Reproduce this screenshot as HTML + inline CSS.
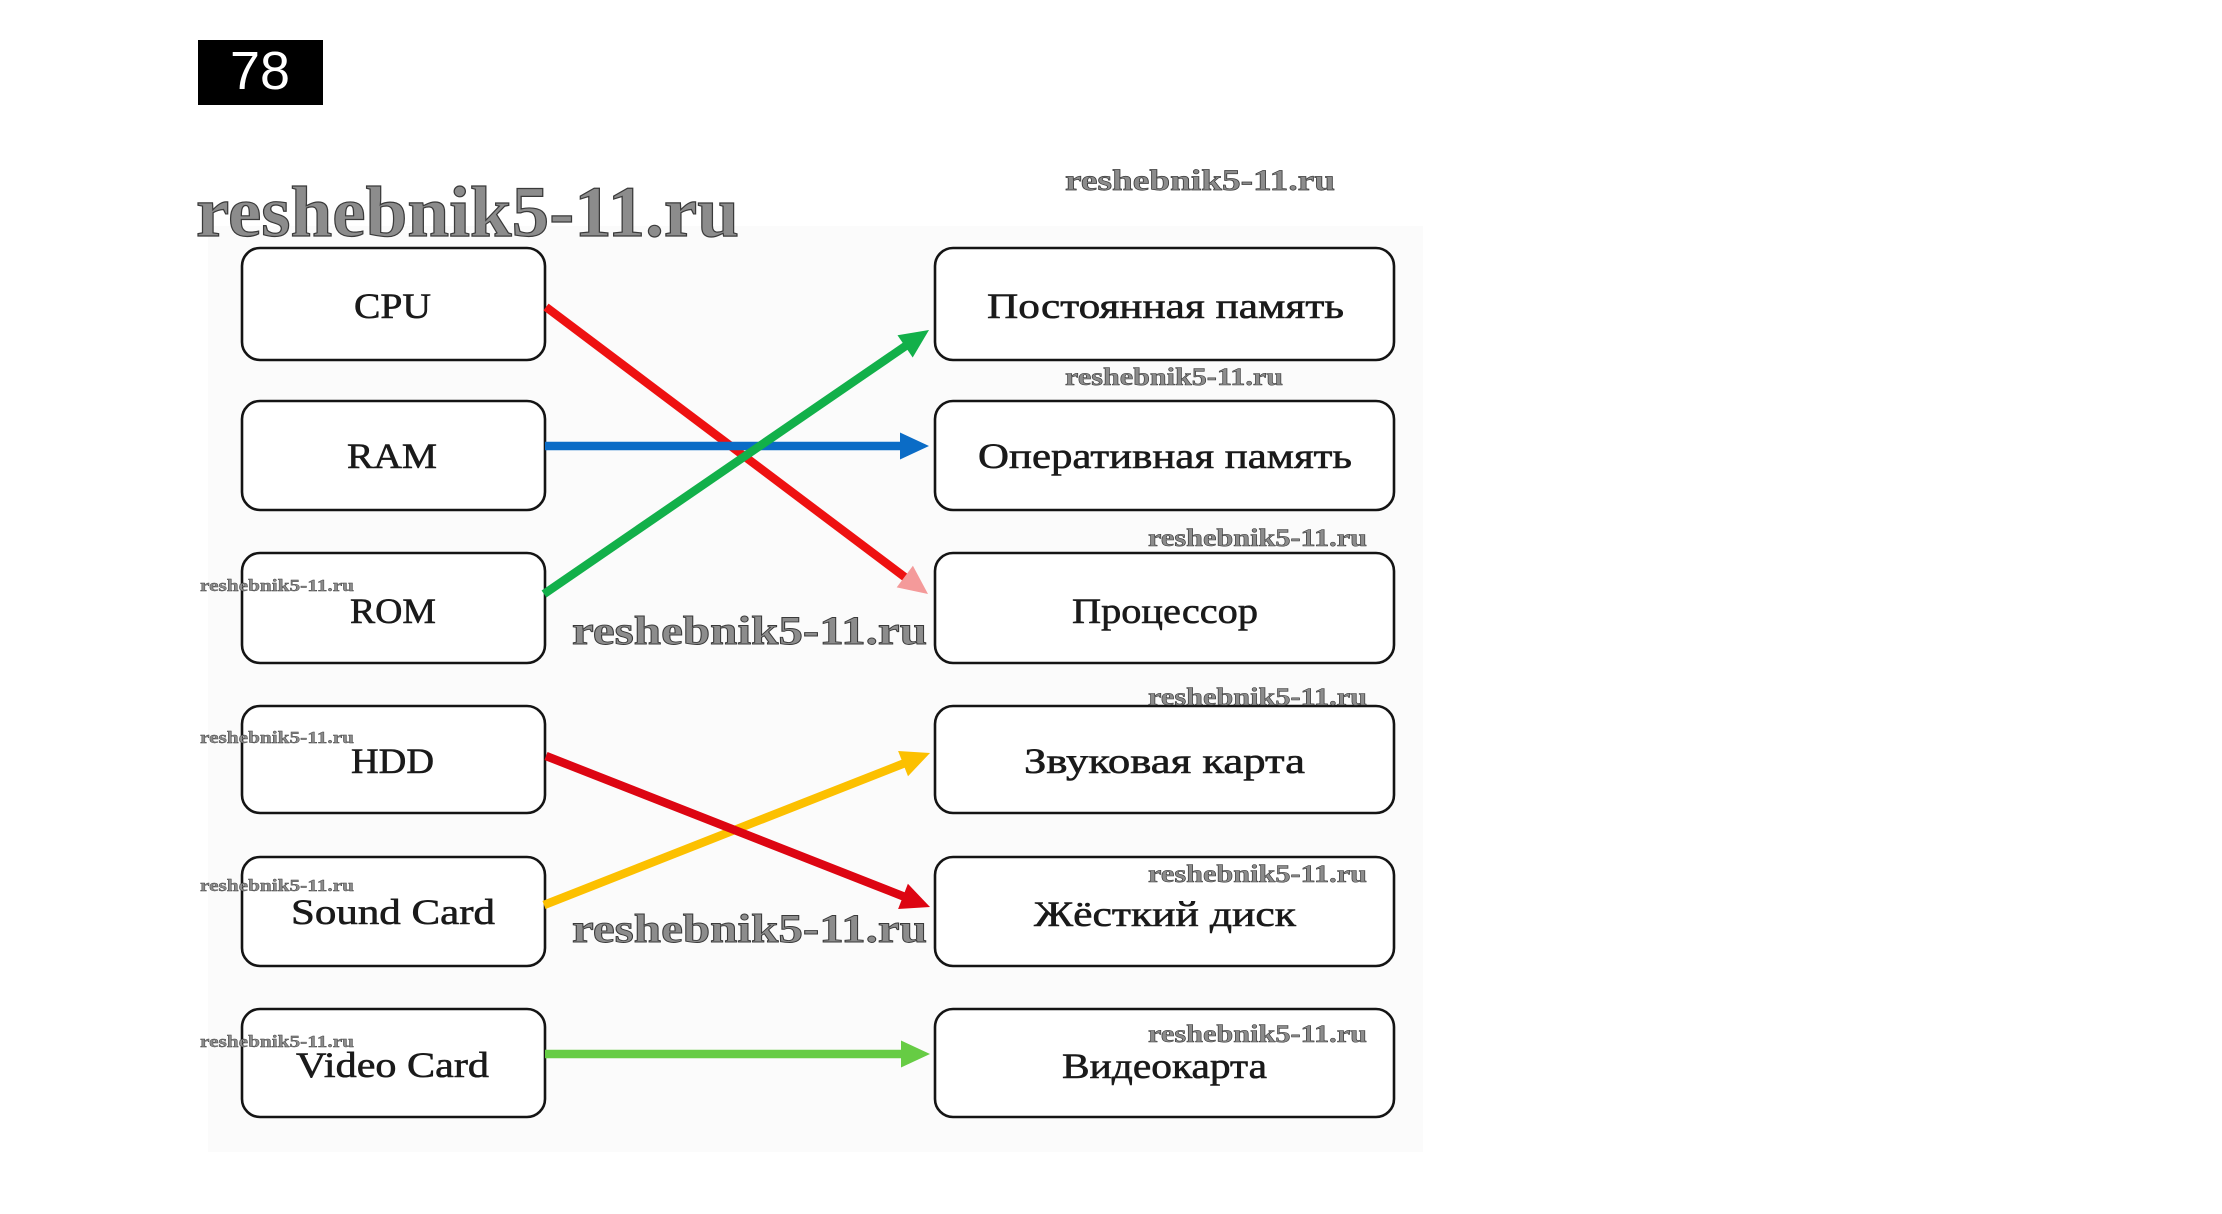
<!DOCTYPE html>
<html>
<head>
<meta charset="utf-8">
<style>
  html, body { margin: 0; padding: 0; background: #ffffff; }
  body { width: 2222px; height: 1214px; overflow: hidden; }
  svg { display: block; }
  .lbl { font-family: "Liberation Serif", "DejaVu Serif", serif; font-size: 36px; fill: #1a1a1a; stroke: #1a1a1a; stroke-width: 0.6; }
  .wm { font-family: "Liberation Serif", "DejaVu Serif", serif; font-weight: bold; fill: #8c8c8c; stroke: #3a3a3a; }
  .box { fill: #ffffff; stroke: #141414; stroke-width: 2.6; }
</style>
</head>
<body>
<svg width="2222" height="1214" viewBox="0 0 2222 1214" xmlns="http://www.w3.org/2000/svg">
  <rect x="0" y="0" width="2222" height="1214" fill="#ffffff"/>
  <rect x="208" y="226" width="1215" height="926" fill="#fbfbfb"/>

  <!-- number badge -->
  <rect x="198" y="40" width="125" height="65" fill="#000000"/>
  <text x="230" y="89" font-family="Liberation Sans, Arial, sans-serif" font-size="54" fill="#ffffff" textLength="60" lengthAdjust="spacingAndGlyphs">78</text>

  <!-- big watermark -->
  <text class="wm" x="196" y="236" font-size="72" stroke-width="1.2" textLength="543" lengthAdjust="spacingAndGlyphs">reshebnik5-11.ru</text>
  <!-- top right watermark -->
  <text class="wm" x="1065" y="190" font-size="30" stroke-width="0.7" textLength="270" lengthAdjust="spacingAndGlyphs">reshebnik5-11.ru</text>

  <!-- left boxes -->
  <rect class="box" x="242" y="248" width="303" height="112" rx="18" ry="18"/>
  <rect class="box" x="242" y="401" width="303" height="109" rx="18" ry="18"/>
  <rect class="box" x="242" y="553" width="303" height="110" rx="18" ry="18"/>
  <rect class="box" x="242" y="706" width="303" height="107" rx="18" ry="18"/>
  <rect class="box" x="242" y="857" width="303" height="109" rx="18" ry="18"/>
  <rect class="box" x="242" y="1009" width="303" height="108" rx="18" ry="18"/>

  <!-- right boxes -->
  <rect class="box" x="935" y="248" width="459" height="112" rx="18" ry="18"/>
  <rect class="box" x="935" y="401" width="459" height="109" rx="18" ry="18"/>
  <rect class="box" x="935" y="553" width="459" height="110" rx="18" ry="18"/>
  <rect class="box" x="935" y="706" width="459" height="107" rx="18" ry="18"/>
  <rect class="box" x="935" y="857" width="459" height="109" rx="18" ry="18"/>
  <rect class="box" x="935" y="1009" width="459" height="108" rx="18" ry="18"/>

  <!-- left labels -->
  <text class="lbl" x="354" y="318" textLength="77" lengthAdjust="spacingAndGlyphs">CPU</text>
  <text class="lbl" x="347" y="468" textLength="90" lengthAdjust="spacingAndGlyphs">RAM</text>
  <text class="lbl" x="350" y="623" textLength="86" lengthAdjust="spacingAndGlyphs">ROM</text>
  <text class="lbl" x="351" y="773" textLength="83" lengthAdjust="spacingAndGlyphs">HDD</text>
  <text class="lbl" x="291" y="924" textLength="204" lengthAdjust="spacingAndGlyphs">Sound Card</text>
  <text class="lbl" x="296" y="1077" textLength="193" lengthAdjust="spacingAndGlyphs">Video Card</text>

  <!-- right labels -->
  <text class="lbl" x="987" y="318" textLength="357" lengthAdjust="spacingAndGlyphs">Постоянная  память</text>
  <text class="lbl" x="978" y="468" textLength="374" lengthAdjust="spacingAndGlyphs">Оперативная  память</text>
  <text class="lbl" x="1072" y="623" textLength="186" lengthAdjust="spacingAndGlyphs">Процессор</text>
  <text class="lbl" x="1024" y="773" textLength="281" lengthAdjust="spacingAndGlyphs">Звуковая  карта</text>
  <text class="lbl" x="1034" y="926" textLength="262" lengthAdjust="spacingAndGlyphs">Жёсткий  диск</text>
  <text class="lbl" x="1062" y="1078" textLength="205" lengthAdjust="spacingAndGlyphs">Видеокарта</text>

  <!-- arrows: CPU -> Процессор (red) -->
  <line x1="546" y1="307" x2="906" y2="578" stroke="#ee1111" stroke-width="8.5"/>
  <polygon points="928,594 896.7,587.4 912.9,565.8" fill="#f49a9a"/>
  <!-- RAM -> Оперативная (blue) -->
  <line x1="545" y1="446" x2="902" y2="446" stroke="#0b6cc6" stroke-width="8.5"/>
  <polygon points="929,446 900,432.5 900,459.5" fill="#0b6cc6"/>
  <!-- ROM -> Постоянная (green) -->
  <line x1="544" y1="594" x2="907" y2="345" stroke="#12b04a" stroke-width="8.5"/>
  <polygon points="929,330 912.7,357.5 897.5,335.3" fill="#12b04a"/>
  <!-- Sound -> Звуковая (yellow) -->
  <line x1="544" y1="905" x2="905" y2="763" stroke="#fcc000" stroke-width="8.5"/>
  <polygon points="930,753 908,776.2 898.1,751" fill="#fcc000"/>
  <!-- HDD -> Жёсткий (red) -->
  <line x1="546" y1="756" x2="905" y2="897" stroke="#dd0512" stroke-width="8.5"/>
  <polygon points="930,907 898.1,909 907.9,883.8" fill="#dd0512"/>
  <!-- Video -> Видеокарта (light green) -->
  <line x1="545" y1="1054" x2="902" y2="1054" stroke="#66cc44" stroke-width="8.5"/>
  <polygon points="930,1054 901,1040.5 901,1067.5" fill="#66cc44"/>

  <!-- medium watermarks -->
  <text class="wm" x="572" y="644" font-size="40" stroke-width="0.9" textLength="355" lengthAdjust="spacingAndGlyphs">reshebnik5-11.ru</text>
  <text class="wm" x="572" y="942" font-size="40" stroke-width="0.9" textLength="355" lengthAdjust="spacingAndGlyphs">reshebnik5-11.ru</text>

  <!-- right small watermarks -->
  <text class="wm" x="1065" y="385" font-size="25" stroke-width="0.6" textLength="218" lengthAdjust="spacingAndGlyphs">reshebnik5-11.ru</text>
  <text class="wm" x="1148" y="546" font-size="25" stroke-width="0.6" textLength="219" lengthAdjust="spacingAndGlyphs">reshebnik5-11.ru</text>
  <text class="wm" x="1148" y="705" font-size="25" stroke-width="0.6" textLength="219" lengthAdjust="spacingAndGlyphs">reshebnik5-11.ru</text>
  <text class="wm" x="1148" y="882" font-size="25" stroke-width="0.6" textLength="219" lengthAdjust="spacingAndGlyphs">reshebnik5-11.ru</text>
  <text class="wm" x="1148" y="1042" font-size="25" stroke-width="0.6" textLength="219" lengthAdjust="spacingAndGlyphs">reshebnik5-11.ru</text>

  <!-- left small watermarks -->
  <text class="wm" x="200" y="591" font-size="17" stroke-width="0.4" textLength="154" lengthAdjust="spacingAndGlyphs">reshebnik5-11.ru</text>
  <text class="wm" x="200" y="743" font-size="17" stroke-width="0.4" textLength="154" lengthAdjust="spacingAndGlyphs">reshebnik5-11.ru</text>
  <text class="wm" x="200" y="891" font-size="17" stroke-width="0.4" textLength="154" lengthAdjust="spacingAndGlyphs">reshebnik5-11.ru</text>
  <text class="wm" x="200" y="1047" font-size="17" stroke-width="0.4" textLength="154" lengthAdjust="spacingAndGlyphs">reshebnik5-11.ru</text>
</svg>
</body>
</html>
